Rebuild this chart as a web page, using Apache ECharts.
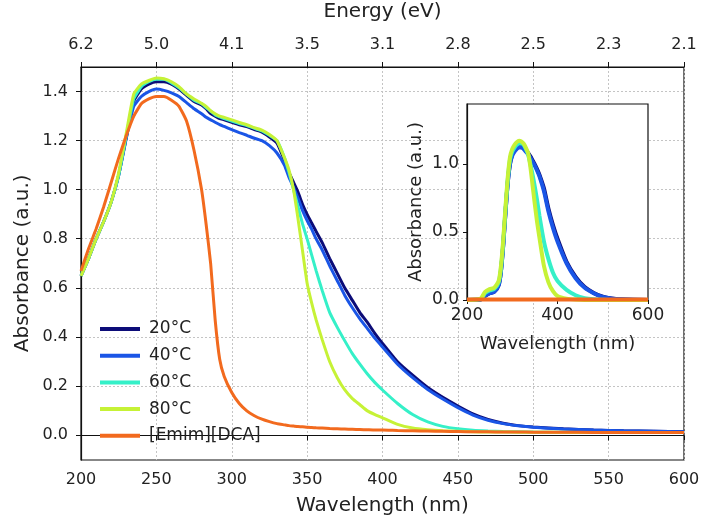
<!DOCTYPE html>
<html>
<head>
<meta charset="utf-8">
<script src="https://cdn.jsdelivr.net/npm/echarts@6/dist/echarts.min.js"></script>
<style>
  html, body { margin: 0; padding: 0; background: #fff; }
  #chart { width: 701px; height: 524px; }
</style>
</head>
<body>
<div id="chart"></div>
<script>
// main spectra (nm -> absorbance)
const wavelengths = [200,205,210,215,220,225,230,235,240,245,250,255,260,265,270,275,280,283,286,289,292,295,300,305,310,315,320,325,330,335,338,341,344,347,350,353,356,360,365,370,375,380,385,390,395,400,410,420,430,440,450,460,470,480,490,500,520,540,560,580,600];
const abs20C = [0.65,0.72,0.80,0.87,0.95,1.06,1.21,1.36,1.41,1.43,1.44,1.44,1.43,1.41,1.385,1.36,1.345,1.33,1.31,1.30,1.29,1.285,1.275,1.265,1.257,1.245,1.235,1.215,1.19,1.12,1.07,1.03,0.99,0.94,0.90,0.865,0.83,0.785,0.72,0.66,0.60,0.55,0.50,0.46,0.415,0.375,0.30,0.245,0.195,0.155,0.12,0.088,0.065,0.05,0.04,0.034,0.027,0.022,0.019,0.017,0.015];
const abs40C = [0.65,0.72,0.80,0.87,0.95,1.06,1.21,1.34,1.38,1.40,1.41,1.405,1.395,1.38,1.355,1.33,1.31,1.295,1.285,1.275,1.265,1.258,1.245,1.233,1.222,1.21,1.20,1.18,1.15,1.10,1.05,1.01,0.965,0.915,0.875,0.84,0.80,0.755,0.69,0.63,0.57,0.52,0.475,0.435,0.395,0.36,0.29,0.235,0.187,0.148,0.113,0.083,0.062,0.048,0.039,0.033,0.026,0.022,0.019,0.017,0.015];
const abs60C = [0.65,0.72,0.80,0.87,0.95,1.06,1.22,1.37,1.42,1.44,1.45,1.45,1.435,1.415,1.39,1.365,1.35,1.335,1.32,1.305,1.297,1.29,1.28,1.27,1.262,1.25,1.24,1.222,1.20,1.13,1.07,1.00,0.93,0.86,0.80,0.735,0.67,0.59,0.50,0.44,0.385,0.333,0.29,0.25,0.215,0.185,0.13,0.085,0.055,0.037,0.027,0.021,0.018,0.016,0.015,0.014,0.013,0.012,0.012,0.012,0.012];
const abs80C = [0.65,0.72,0.80,0.87,0.95,1.07,1.23,1.39,1.43,1.445,1.455,1.452,1.44,1.42,1.39,1.37,1.352,1.34,1.322,1.31,1.30,1.295,1.285,1.274,1.265,1.253,1.243,1.225,1.20,1.13,1.08,1.00,0.88,0.75,0.62,0.54,0.47,0.39,0.30,0.235,0.185,0.15,0.125,0.10,0.085,0.072,0.045,0.03,0.023,0.019,0.017,0.015,0.014,0.014,0.013,0.013,0.012,0.012,0.012,0.012,0.012];
const absEmim = [0.67,0.76,0.84,0.93,1.03,1.13,1.22,1.30,1.35,1.37,1.38,1.38,1.365,1.34,1.28,1.16,1.00,0.86,0.70,0.47,0.31,0.24,0.175,0.13,0.10,0.08,0.066,0.056,0.048,0.043,0.04,0.038,0.036,0.035,0.033,0.032,0.031,0.03,0.028,0.027,0.026,0.025,0.024,0.023,0.022,0.022,0.02,0.019,0.018,0.017,0.016,0.015,0.015,0.014,0.014,0.013,0.013,0.012,0.012,0.012,0.012];

// inset spectra
const insetWavelengths = [200,230,240,250,260,270,275,280,285,290,295,300,305,310,315,320,325,330,335,340,345,350,355,360,370,380,390,400,420,440,460,480,500,520,550,600];
const inset20C = [0,0.003,0.03,0.05,0.06,0.11,0.21,0.40,0.64,0.86,1.0,1.07,1.10,1.12,1.13,1.13,1.12,1.10,1.08,1.055,1.025,0.995,0.96,0.92,0.82,0.67,0.55,0.45,0.28,0.17,0.095,0.052,0.024,0.011,0.003,0];
const inset40C = [0,0.003,0.03,0.05,0.06,0.11,0.21,0.40,0.64,0.86,1.0,1.06,1.09,1.11,1.12,1.12,1.11,1.09,1.07,1.045,1.015,0.985,0.95,0.91,0.80,0.65,0.53,0.43,0.27,0.16,0.09,0.05,0.022,0.01,0.003,0];
const inset60C = [0,0.005,0.05,0.07,0.08,0.13,0.23,0.42,0.66,0.88,1.03,1.09,1.12,1.14,1.15,1.15,1.14,1.11,1.07,1.0,0.92,0.83,0.73,0.62,0.43,0.30,0.20,0.14,0.074,0.035,0.014,0.005,0.002,0,0,0];
const inset80C = [0,0.01,0.06,0.08,0.09,0.14,0.25,0.44,0.68,0.90,1.05,1.11,1.14,1.16,1.17,1.165,1.15,1.12,1.08,0.98,0.84,0.70,0.57,0.46,0.25,0.13,0.065,0.03,0.01,0.003,0,0,0,0,0,0];
const insetEmimWavelengths = [200,600];
const insetEmim = [0.003,0.003];

const seriesNames = ['20°C','40°C','60°C','80°C','[Emim][DCA]'];
const seriesColors = ['#0c0c78','#1a55e6','#35f0c8','#c6f236','#f26a1e'];
const energyLabels = ['6.2','5.0','4.1','3.5','3.1','2.8','2.5','2.3','2.1'];

const FONT = 'DejaVu Sans';
const TXT = '#222';

function pairs(xs, ys) {
  return xs.map((x, i) => [x, ys[i]]);
}

const mainData = [abs20C, abs40C, abs60C, abs80C, absEmim];
const insetData = [
  pairs(insetWavelengths, inset20C),
  pairs(insetWavelengths, inset40C),
  pairs(insetWavelengths, inset60C),
  pairs(insetWavelengths, inset80C),
  pairs(insetEmimWavelengths, insetEmim)
];

let series = [];
seriesNames.forEach((name, i) => {
  series.push({
    name: name,
    type: 'line',
    xAxisIndex: 0,
    yAxisIndex: 0,
    showSymbol: false,
    symbol: 'none',
    smooth: 0.15,
    z: 3 + i,
    lineStyle: { width: 3, color: seriesColors[i] },
    itemStyle: { color: seriesColors[i] },
    data: pairs(wavelengths, mainData[i])
  });
});
seriesNames.forEach((name, i) => {
  series.push({
    name: name,
    type: 'line',
    xAxisIndex: 3,
    yAxisIndex: 2,
    showSymbol: false,
    symbol: 'none',
    smooth: 0.2,
    z: 12 + i,
    lineStyle: { width: 4, color: seriesColors[i] },
    itemStyle: { color: seriesColors[i] },
    data: insetData[i]
  });
});

const dotted = { show: true, lineStyle: { color: '#c4c4c4', type: [2, 2], width: 1 } };

let option = {
  animation: false,
  backgroundColor: '#fff',
  textStyle: { fontFamily: FONT, color: TXT },
  grid: [
    // main plot box
    { left: 81, right: 17, top: 67, bottom: 64, containLabel: false, outerBoundsMode: 'none',
      show: true, borderColor: '#111', borderWidth: 1.2, backgroundColor: 'transparent' },
    // 0..1.4 band, only for y ticks / grid lines
    { left: 81, right: 17, top: 91.5, bottom: 89, containLabel: false, outerBoundsMode: 'none' },
    // inset
    { left: 467, width: 181, top: 104, height: 196, containLabel: false, outerBoundsMode: 'none',
      show: true, backgroundColor: '#fff', borderColor: '#111', borderWidth: 1.2, z: 8 }
  ],
  xAxis: [
    {
      gridIndex: 0, type: 'value', min: 200, max: 600, interval: 50,
      name: 'Wavelength (nm)', nameLocation: 'middle', nameGap: 36, nameMoveOverlap: false,
      nameTextStyle: { fontSize: 20, color: TXT, fontFamily: FONT },
      axisLine: { show: true, lineStyle: { color: '#111', width: 1.2 } },
      axisTick: { show: true, inside: false, length: 5, lineStyle: { color: '#111' } },
      axisLabel: { fontSize: 16, color: TXT, margin: 12, fontFamily: FONT },
      splitLine: dotted
    },
    {
      gridIndex: 0, type: 'value', position: 'top', min: 200, max: 600, interval: 50,
      name: 'Energy (eV)', nameLocation: 'middle', nameGap: 45, nameMoveOverlap: false,
      nameTextStyle: { fontSize: 20, color: TXT, fontFamily: FONT },
      axisLine: { show: true, lineStyle: { color: '#111', width: 1.2 } },
      axisTick: { show: true, inside: false, length: 5, lineStyle: { color: '#111' } },
      axisLabel: {
        fontSize: 16, color: TXT, margin: 14, fontFamily: FONT,
        formatter: v => energyLabels[Math.round((v - 200) / 50)]
      },
      splitLine: { show: false }
    },
    { gridIndex: 1, type: 'value', min: 200, max: 600, show: false },
    {
      gridIndex: 2, type: 'value', min: 200, max: 600, interval: 200, z: 9,
      name: 'Wavelength (nm)', nameLocation: 'middle', nameGap: 35, nameMoveOverlap: false,
      nameTextStyle: { fontSize: 18, color: TXT, fontFamily: FONT },
      axisLine: { show: true, lineStyle: { color: '#111', width: 1.2 } },
      axisTick: { show: true, inside: false, length: 4, lineStyle: { color: '#111' } },
      axisLabel: { fontSize: 17, color: TXT, margin: 7, fontFamily: FONT },
      splitLine: { show: false }
    }
  ],
  yAxis: [
    {
      gridIndex: 0, type: 'value', min: -0.1, max: 1.5,
      axisLine: { show: true, lineStyle: { color: '#111', width: 1.2 } },
      axisTick: { show: false }, axisLabel: { show: false }, splitLine: { show: false }
    },
    {
      gridIndex: 1, type: 'value', min: 0, max: 1.4, interval: 0.2,
      name: 'Absorbance (a.u.)', nameLocation: 'middle', nameGap: 48, nameMoveOverlap: false,
      nameTextStyle: { fontSize: 20, color: TXT, fontFamily: FONT },
      axisLine: { show: false },
      axisTick: { show: true, inside: false, length: 5, lineStyle: { color: '#111' } },
      axisLabel: { fontSize: 16, color: TXT, margin: 13, fontFamily: FONT, formatter: v => v.toFixed(1) },
      splitLine: dotted
    },
    {
      gridIndex: 2, type: 'value', min: 0, max: 1.44, interval: 0.5, z: 9,
      name: 'Absorbance (a.u.)', nameLocation: 'middle', nameGap: 42, nameMoveOverlap: false,
      nameTextStyle: { fontSize: 18, color: TXT, fontFamily: FONT },
      axisLine: { show: true, lineStyle: { color: '#111', width: 1.2 } },
      axisTick: { show: true, inside: false, length: 4, lineStyle: { color: '#111' } },
      axisLabel: { fontSize: 17, color: TXT, margin: 8, fontFamily: FONT, showMaxLabel: false,
        formatter: v => v.toFixed(1) },
      splitLine: { show: false }
    }
  ],
  legend: {
    orient: 'vertical', left: 95, top: 315,
    itemWidth: 40, itemHeight: 4, itemGap: 8.7, icon: 'rect',
    textStyle: { fontSize: 17, lineHeight: 18, color: TXT, fontFamily: FONT, padding: [0, 0, 0, 4] },
    data: seriesNames
  },
  series: series
};

let myChart = echarts.init(document.getElementById('chart'));
myChart.setOption(option);
</script>
</body>
</html>
